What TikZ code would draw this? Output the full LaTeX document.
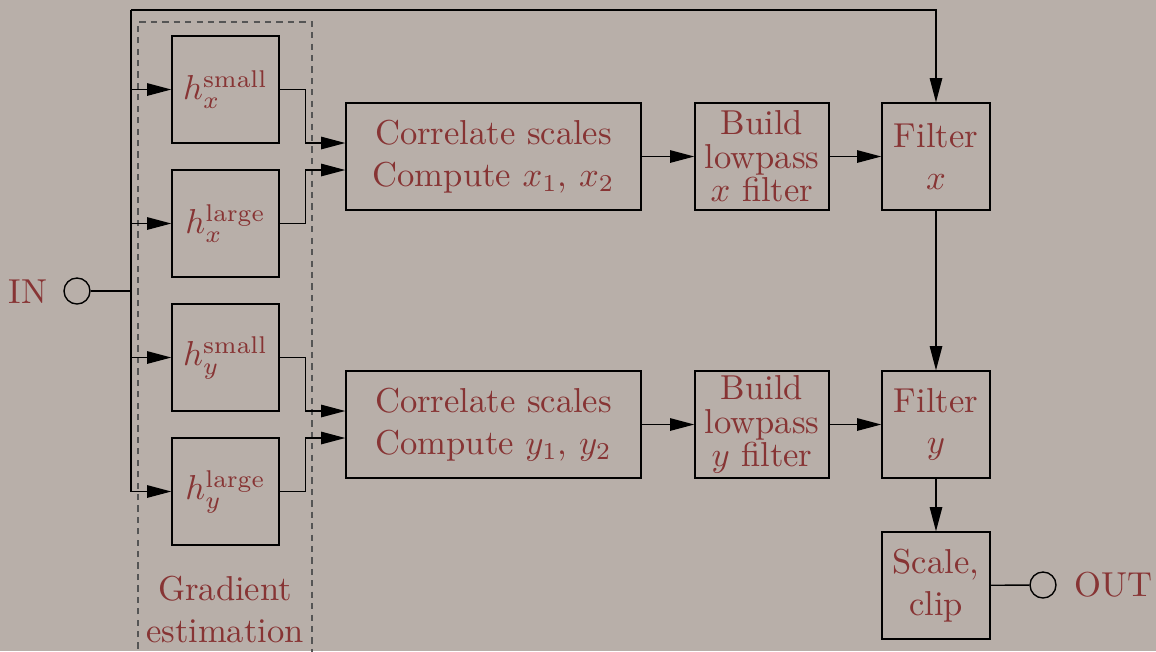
\documentclass[tikz,border=0pt]{standalone}
\usetikzlibrary{arrows.meta,calc}
\definecolor{bgc}{RGB}{184,175,169}
\definecolor{txt}{RGB}{135,52,52}
\definecolor{dashc}{RGB}{85,85,85}
\begin{document}
\begin{tikzpicture}[x=0.289pt,y=-0.289pt,
  >={Triangle[length=7pt,width=3.6pt]},
  blk/.style={draw, text=txt, align=center, inner sep=0pt,
    minimum height=107*0.289pt},
  port/.style={draw, circle, minimum size=26*0.289pt, inner sep=0pt},
  lbl/.style={text=txt, align=center, inner sep=0pt}]
\fill[bgc] (0,0) rectangle (1156,651);
\useasboundingbox (0,0) rectangle (1156,651);
\clip (0,0) rectangle (1156,651);

% gradient estimation group
\draw[dashc, dash pattern=on 1.8pt off 1.5pt] (138,660) -- (138,22) -- (312,22) -- (312,660);
\node[lbl] (grad) at (225,609.5) {Gradient\\estimation};

% filter banks
\node[blk, minimum width=107*0.289pt] (hxs) at (225.5,89.5) {$h_x^{\mathrm{small}}$};
\node[blk, minimum width=107*0.289pt] (hxl) at (225.5,223.5) {$h_x^{\mathrm{large}}$};
\node[blk, minimum width=107*0.289pt] (hys) at (225.5,357.5) {$h_y^{\mathrm{small}}$};
\node[blk, minimum width=107*0.289pt] (hyl) at (225.5,491.5) {$h_y^{\mathrm{large}}$};

% processing chain
\node[blk, minimum width=295*0.289pt] (corx) at (493.5,156.5) {Correlate scales\\Compute $x_1$, $x_2$};
\node[blk, minimum width=295*0.289pt] (cory) at (493.5,424.5) {Correlate scales\\Compute $y_1$, $y_2$};
\node[blk, minimum width=134*0.289pt] (bldx) at (762,156.5) {Build\\[-2.3pt]lowpass\\[-2.3pt]$x$ filter};
\node[blk, minimum width=134*0.289pt] (bldy) at (762,424.5) {Build\\[-2.3pt]lowpass\\[-2.3pt]$y$ filter};
\node[blk, minimum width=108*0.289pt] (filx) at (936,156.5) {Filter\\$x$};
\node[blk, minimum width=108*0.289pt] (fily) at (936,424.5) {Filter\\$y$};
\node[blk, minimum width=108*0.289pt] (scl) at (936,585.5) {Scale,\\clip};

% ports
\node[port] (in) at (77,291) {};
\node[lbl] (inl) at (28,292) {IN};
\node[port] (out) at (1043,585) {};
\node[lbl] (outl) at (1113.5,585) {OUT};

% input distribution bus
\coordinate (btop) at (131,10);
\draw (in.east) -- (in.east -| btop);
\draw[->] (btop) |- (hyl.west);
\draw[->] (btop) -| (filx.north);
\draw[->] (hxs.west -| btop) -- (hxs.west);
\draw[->] (hxl.west -| btop) -- (hxl.west);
\draw[->] (hys.west -| btop) -- (hys.west);

% gradient outputs
\draw[->] (hxs.east) -- ++(26,0) |- ($(corx.west)+(0,-13.5)$);
\draw[->] (hxl.east) -- ++(26,0) |- ($(corx.west)+(0,13.5)$);
\draw[->] (hys.east) -- ++(26,0) |- ($(cory.west)+(0,-13.5)$);
\draw[->] (hyl.east) -- ++(26,0) |- ($(cory.west)+(0,13.5)$);

% chain
\draw[->] (corx) -- (bldx);
\draw[->] (bldx) -- (filx);
\draw[->] (cory) -- (bldy);
\draw[->] (bldy) -- (fily);
\draw[->] (filx) -- (fily);
\draw[->] (fily) -- (scl);
\draw (scl) -- (out);
\end{tikzpicture}
\end{document}
